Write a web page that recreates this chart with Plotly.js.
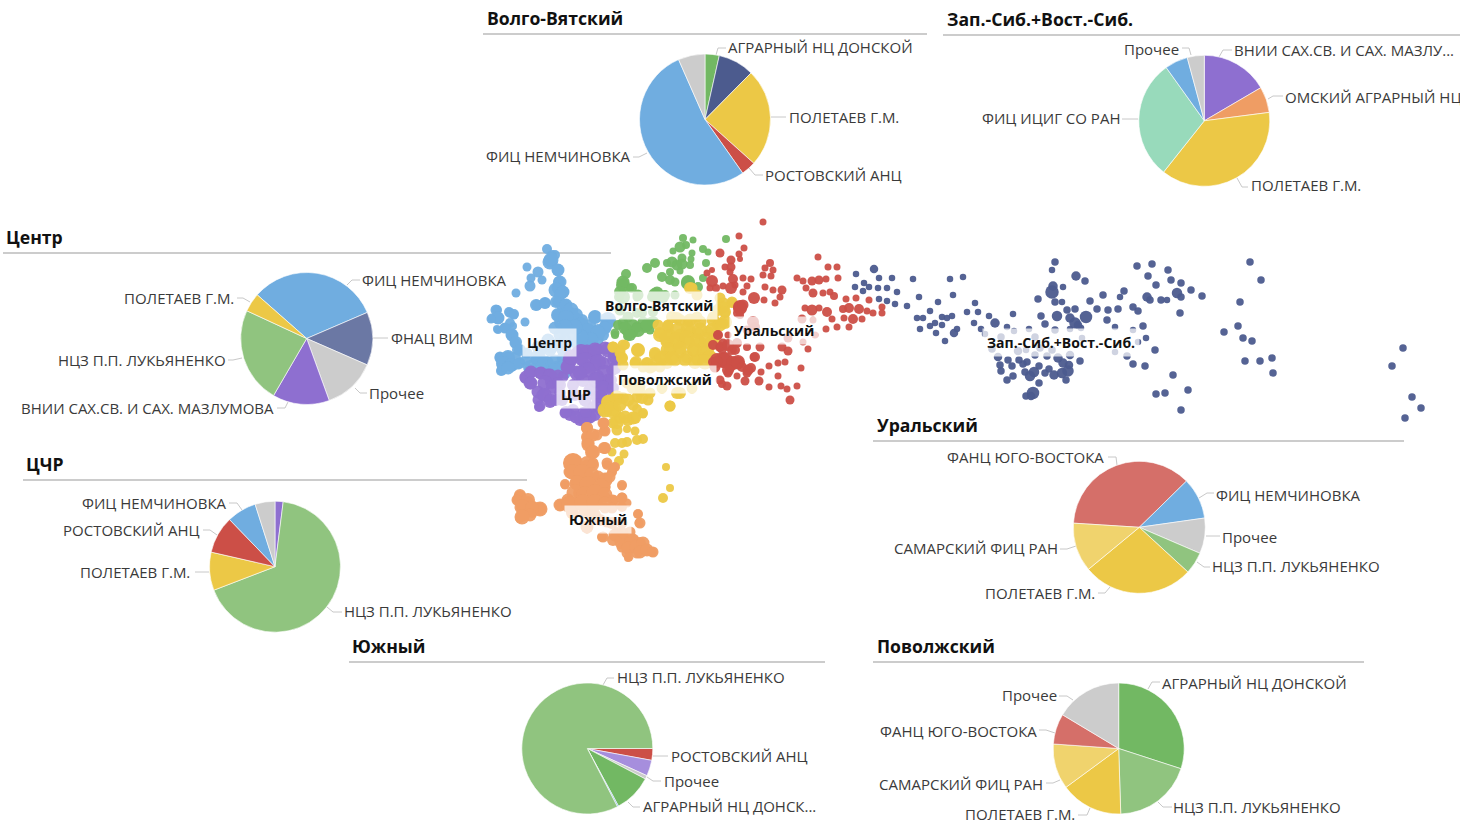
<!DOCTYPE html>
<html><head><meta charset="utf-8">
<script src="https://cdn.plot.ly/plotly-3.0.1.min.js"></script>
<style>html,body{margin:0;padding:0;background:#fff;overflow:hidden}#c{width:1460px;height:820px}</style>
</head><body><div id="c"></div>
<script>
// ---- scatter clusters: [x, y, dot size] ----
const centrPts=[[547,249,7],[552,255,7],[555,255,7],[550,262,12],[558,270,9],[527,267,6],[538,272,8],[531,278,6],[542,280,6],[530,286,8],[559,282,9],[558,288,10],[563,292,9],[560,295,8],[516,293,6],[537,305,8],[545,303,8],[557,302,7],[565,305,9],[497,310,7],[492,318,6],[498,318,9],[510,313,7],[514,315,6],[525,322,6],[505,328,7],[498,330,5],[513,326,5],[512,335,9],[515,343,8],[517,350,7],[558,315,9],[570,313,10],[575,318,10],[560,323,9],[580,327,11],[587,332,9],[595,317,10],[608,322,11],[605,327,10],[598,330,9],[603,335,9],[597,340,10],[590,342,10],[583,340,10],[577,343,10],[568,320,10],[500,357,8],[508,358,10],[515,358,9],[503,365,10],[512,365,10],[502,370,8],[520,363,8],[530,370,9],[537,360,10],[547,363,11],[557,367,10],[557,373,9],[563,358,10],[527,353,8],[540,350,10],[550,350,10],[563,350,10],[562,305,9],[565,315,10],[572,325,10],[565,330,10],[573,335,10],[582,320,9],[590,325,9],[548,340,10],[560,335,10],[555,345,10],
[551,260,12],[558,270,10],[560,282,10],[556,290,12],[563,292,10],[560,295,9],[536,305,9],[545,303,9],[556,302,9],[566,305,10],[571,310,12],[576,315,11],[558,315,11],[566,318,13],[581,325,12],[588,330,11],[595,317,11],[608,320,13],[605,328,10],[598,333,12],[591,340,12],[581,337,12],[575,327,12],[565,327,12],[555,328,10],[496,310,8],[498,318,10],[491,319,6],[509,312,7],[514,314,7],[510,323,7],[505,328,8],[497,329,5],[512,335,10],[516,342,9],[520,350,9],[500,358,8],[508,357,11],[503,363,11],[511,365,11],[518,364,8],[501,371,7],[508,368,10],[526,360,8],[530,367,11],[538,357,12],[545,363,12],[555,362,12],[563,368,12],[541,368,9],[555,370,11],[565,373,9],[538,347,10],[551,347,10],[565,347,10],[565,340,10]];
const cchrPts=[[525,378,8],[530,373,9],[540,373,9],[530,383,10],[538,392,10],[548,375,10],[552,382,11],[543,395,10],[550,402,9],[539,407,7],[538,400,8],[558,375,8],[570,360,12],[577,353,10],[587,352,12],[597,350,10],[605,348,10],[613,353,8],[613,360,9],[568,367,10],[577,373,12],[587,367,11],[595,365,10],[603,363,10],[612,370,9],[583,380,11],[597,377,12],[608,380,10],[603,387,10],[612,390,9],[597,397,10],[603,398,9],[593,407,9],[590,417,10],[580,420,9],[570,415,9],[565,413,8],[583,413,9],[573,410,9],[595,357,10],[582,360,10],[590,390,10],[575,395,9],[585,400,10],[560,385,9],[562,400,9],
[526,377,10],[531,372,10],[531,383,10],[541,373,10],[550,375,10],[545,383,12],[553,387,11],[545,395,11],[551,400,10],[540,406,8],[563,377,8],[568,367,12],[571,357,12],[581,352,13],[595,350,12],[608,350,12],[615,357,10],[615,368,10],[585,360,13],[598,362,13],[588,370,12],[605,373,13],[580,373,11],[596,380,13],[611,380,9],[603,388,12],[613,388,9],[601,397,10],[598,405,10],[595,415,9],[585,420,11],[576,417,10],[566,412,9],[586,412,9],[601,410,9],[573,385,9],[558,383,9],[560,393,9],[556,400,9]];
const volgaVyatPts=[[726,239,6],[683,238,6],[693,240,5],[686,245,6],[680,247,9],[673,251,5],[692,253,5],[703,249,6],[708,252,5],[691,259,5],[667,263,6],[672,262,9],[677,265,9],[682,264,9],[682,258,7],[690,265,6],[706,263,6],[655,263,8],[647,268,8],[670,272,6],[680,271,5],[662,277,8],[670,280,8],[675,282,7],[688,282,12],[698,287,8],[703,278,6],[626,274,8],[623,285,12],[630,288,7],[619,297,8],[637,297,7],[657,293,11],[652,297,8],[665,295,8],[675,295,7],[620,310,9],[623,323,9],[618,325,8],[627,330,10],[637,327,9],[643,322,9],[650,323,9],[642,313,8],[633,333,8],[628,336,8],[615,335,6],[650,330,7],[645,328,8],[653,312,8],[628,317,9],[637,313,8],
[625,328,11],[633,325,10],[638,330,12],[647,325,11],[653,322,10],[630,335,10],[615,333,7],[623,282,11],[632,288,8],[620,292,10],[623,297,12],[655,295,12],[663,297,10],[638,295,9],[688,283,12]];
const povolzhPts=[[692,288,8],[720,298,8],[732,303,7],[723,307,9],[725,313,7],[723,323,8],[713,317,8],[697,317,8],[688,322,8],[677,318,9],[668,325,8],[658,325,8],[660,333,9],[670,335,10],[680,335,10],[690,332,10],[698,333,9],[708,332,9],[717,325,8],[667,342,10],[677,342,12],[688,342,11],[700,342,10],[710,343,10],[670,350,10],[680,352,10],[693,350,10],[703,352,10],[655,355,9],[665,357,10],[675,360,10],[687,357,10],[698,360,10],[707,357,10],[657,360,8],[667,363,9],[613,347,8],[625,345,7],[620,350,8],[638,350,10],[622,358,9],[635,363,8],[647,363,8],[623,365,8],[650,368,8],[627,383,8],[640,387,8],[662,388,8],[677,393,9],[692,388,8],[648,400,8],[637,397,8],[623,398,9],[617,397,10],[608,402,11],[613,410,10],[605,410,9],[670,406,8],[637,409,7],[643,414,6],[620,418,9],[628,420,9],[635,418,9],[613,423,8],[617,430,8],[627,429,5],[635,431,6],[643,439,7],[637,440,7],[627,442,7],[622,443,7],[615,443,7],[612,452,6],[624,454,6],[619,461,7],[666,467,5],[670,488,5],[663,498,7],
[690,288,9],[697,295,8],[723,305,12],[732,302,8],[718,310,9],[725,312,9],[713,320,10],[725,322,11],[720,325,10],[700,322,10],[690,320,10],[680,320,9],[672,317,9],[668,327,9],[660,335,11],[678,330,12],[688,328,11],[700,330,12],[712,330,11],[667,338,12],[677,340,13],[687,338,12],[697,340,11],[707,340,12],[715,343,10],[668,350,12],[680,348,10],[695,350,11],[707,350,11],[710,357,11],[655,353,9],[662,358,12],[672,358,11],[685,360,10],[695,362,11],[705,362,12],[623,345,8],[613,347,8],[620,353,8],[638,350,11],[622,358,8],[636,362,9],[647,363,9],[652,367,8],[660,367,8],[643,367,8],[680,393,9],[670,406,8],[650,393,8],[640,392,8],[632,388,8],[610,403,14],[617,398,12],[605,410,12],[613,410,14],[620,405,10],[628,400,10],[642,398,9],[633,418,10],[625,417,10],[617,422,11],[643,413,7],[633,405,8]];
const uralPts=[[763,222,5],[739,236,5],[744,248,5],[720,253,7],[739,254,5],[740,259,4],[731,260,7],[731,267,7],[725,267,5],[730,272,5],[712,270,4],[707,273,5],[712,281,10],[733,279,8],[743,278,5],[751,279,5],[723,286,5],[710,288,5],[716,288,6],[731,288,10],[735,285,5],[747,286,5],[743,292,5],[765,287,5],[770,263,6],[765,268,5],[773,270,5],[763,275,5],[771,276,5],[773,290,5],[782,290,7],[780,297,5],[754,298,10],[764,300,5],[775,303,5],[740,308,12],[740,315,6],[818,257,5],[828,267,5],[837,267,5],[797,278,5],[803,281,5],[812,281,7],[819,280,7],[826,279,5],[838,278,5],[806,288,5],[813,293,7],[823,293,5],[830,292,5],[834,296,6],[846,299,5],[856,298,5],[869,300,5],[882,307,5],[843,309,6],[849,308,8],[859,309,8],[867,311,5],[873,313,5],[882,313,5],[805,308,5],[812,310,9],[819,308,5],[827,312,8],[832,319,5],[844,318,5],[853,319,8],[862,319,5],[849,327,5],[837,327,5],[826,329,5],[802,319,7],[813,320,5],[753,322,10],[755,327,8],[747,330,7],[788,338,7],[803,342,5],[815,335,5],[718,335,7],[728,335,5],[723,343,7],[737,343,8],[747,347,6],[720,347,8],[760,347,7],[782,347,7],[788,351,7],[808,349,5],[732,350,8],[754,357,7],[717,360,12],[725,360,14],[738,363,11],[713,362,8],[730,367,9],[751,368,8],[778,363,5],[785,362,5],[769,366,5],[801,368,5],[747,373,7],[761,372,5],[728,373,7],[737,376,5],[778,376,5],[745,381,7],[759,381,7],[720,380,7],[727,386,7],[722,384,6],[769,387,5],[781,386,5],[787,389,5],[797,386,5],[790,400,7],
[723,360,14],[733,363,12],[717,362,10],[715,367,9],[728,370,10],[738,362,12],[742,367,8],[713,345,8],[722,348,9],[735,350,8],[718,335,8],[728,345,10],[748,370,9],[755,357,8],[740,307,12],[743,305,9],[738,313,8]];
const yuzhnyPts=[[587,428,9],[604,423,8],[604,431,7],[588,437,9],[597,435,8],[588,443,10],[592,452,11],[605,448,9],[607,465,7],[615,467,6],[612,472,6],[573,463,16],[587,467,12],[593,463,8],[570,472,10],[577,473,13],[587,477,12],[598,477,10],[607,478,8],[577,483,11],[565,485,6],[590,487,12],[603,487,12],[622,486,6],[580,493,11],[595,497,13],[605,497,8],[613,500,7],[622,497,6],[560,505,8],[568,503,11],[580,503,12],[593,507,10],[620,505,7],[627,503,6],[605,508,8],[573,513,9],[587,527,9],[638,514,6],[639,523,6],[602,537,7],[617,533,9],[613,540,9],[623,538,10],[633,540,10],[622,547,8],[630,547,9],[640,543,9],[637,553,8],[645,550,9],[652,552,7],[628,558,5],[627,553,8],[520,497,10],[517,500,6],[528,502,9],[522,507,9],[540,509,10],[532,512,9],[523,515,10],[520,518,7],[533,507,9],[585,512,10],[595,515,9],[607,522,8],
[587,428,9],[587,437,9],[593,435,10],[588,445,10],[593,452,11],[604,448,9],[605,431,8],[603,423,8],[607,463,8],[615,467,7],[612,472,7],[573,463,17],[587,463,11],[593,465,9],[572,472,12],[582,473,14],[592,475,12],[605,480,12],[577,483,12],[565,484,7],[588,485,14],[602,487,14],[610,477,8],[622,485,7],[575,493,14],[585,495,14],[595,493,14],[605,495,12],[613,500,8],[622,498,8],[568,500,10],[560,505,10],[570,505,14],[583,503,14],[595,503,14],[605,503,10],[622,507,7],[612,508,8],[572,513,9],[638,514,7],[640,523,8],[587,527,10],[603,537,8],[615,535,10],[622,542,12],[632,542,12],[628,548,10],[637,547,12],[643,543,10],[640,552,10],[647,550,10],[653,552,8],[629,557,6],[630,532,8],[623,533,8],[612,523,9],[600,520,9],[590,515,9],[622,523,8],[520,495,9],[517,500,8],[528,500,11],[522,507,12],[540,509,12],[532,508,11],[530,515,10],[522,517,12]];
const sibirPts=[[874,269,7],[856,274,5],[879,278,5],[892,278,5],[913,279,5],[864,283,5],[855,287,5],[869,287,5],[878,288,5],[887,288,5],[863,291,5],[897,292,5],[919,297,5],[879,299,5],[887,301,5],[895,304,5],[907,306,5],[930,311,5],[917,318,5],[923,318,5],[935,323,5],[930,326,5],[920,329,5],[936,333,5],[938,302,5],[950,279,5],[963,277,5],[953,295,5],[975,303,5],[942,317,5],[947,318,5],[952,316,5],[967,312,5],[978,312,5],[989,316,5],[1013,314,5],[942,325,5],[974,323,5],[957,329,5],[954,333,7],[945,341,5],[981,329,5],[995,323,8],[1007,327,5],[985,334,5],[1014,331,5],[1029,329,5],[1001,337,6],[1035,337,6],[1055,330,6],[1070,329,5],[1081,328,5],[1115,327,5],[1133,330,5],[1082,338,5],[1146,338,5],[1138,342,5],[992,349,6],[1018,351,7],[1026,350,5],[1040,348,6],[1052,350,6],[1115,352,5],[1055,262,6],[1052,270,5],[1053,286,8],[1052,292,12],[1063,287,5],[1076,276,8],[1085,281,6],[1038,299,6],[1055,302,6],[1062,302,5],[1103,295,6],[1090,301,6],[1120,297,5],[1124,291,6],[1137,266,6],[1152,264,6],[1148,276,6],[1168,270,6],[1171,280,6],[1181,283,6],[1156,285,6],[1177,293,9],[1191,290,6],[1181,297,6],[1202,296,6],[1147,297,8],[1150,300,6],[1161,300,6],[1167,300,5],[1180,313,6],[1133,307,6],[1138,311,6],[1118,309,6],[1108,310,6],[1097,309,6],[1107,320,6],[1143,326,6],[1067,310,6],[1075,309,6],[1057,316,9],[1041,316,6],[1070,318,8],[1086,317,11],[1075,323,10],[1078,325,7],[1045,324,6],[998,357,7],[1070,355,7],[1058,358,8],[1047,356,6],[1035,355,6],[1008,360,6],[1019,360,6],[1080,361,6],[1027,362,6],[1023,364,6],[1000,365,6],[1012,366,6],[1063,363,8],[1069,365,7],[1039,366,6],[1001,371,6],[1025,372,6],[1034,372,9],[1049,369,6],[1045,373,6],[1030,376,9],[1013,376,6],[1054,375,8],[1062,373,9],[1068,371,10],[1007,380,6],[1066,380,6],[1039,383,6],[1026,396,6],[1033,393,11],[1031,396,7],[1127,356,6],[1133,364,6],[1145,366,6],[1155,350,6],[1173,375,6],[1156,394,6],[1165,393,6],[1188,390,6],[1181,410,6],[1250,262,6],[1261,280,6],[1240,302,6],[1238,326,6],[1224,332,6],[1243,338,6],[1252,341,6],[1245,361,6],[1260,361,6],[1272,358,6],[1273,373,6],[1403,348,6],[1392,366,6],[1412,397,6],[1421,408,6],[1405,418,6]];

// ---- pies: slice names and shares (%) ----
const volgaLabels=['АГРАРНЫЙ НЦ ДОНСКОЙ','ФНАЦ ВИМ','ПОЛЕТАЕВ Г.М.','РОСТОВСКИЙ АНЦ','ФИЦ НЕМЧИНОВКА','Прочее'];
const volgaValues=[3.5,8.9,24.2,3.6,53.1,6.6];
const sibLabels=['ВНИИ САХ.СВ. И САХ. МАЗЛУ...','ОМСКИЙ АГРАРНЫЙ НЦ','ПОЛЕТАЕВ Г.М.','ФИЦ ИЦИГ СО РАН','ФИЦ НЕМЧИНОВКА','Прочее'];
const sibValues=[16.6,6.4,37.8,29.5,5.7,4.2];
const centrLabels=['ФИЦ НЕМЧИНОВКА','ФНАЦ ВИМ','Прочее','ВНИИ САХ.СВ. И САХ. МАЗЛУМОВА','НЦЗ П.П. ЛУКЬЯНЕНКО','ПОЛЕТАЕВ Г.М.'];
const centrValues=[32,13,12.9,13.9,23.5,4.6];
const cchrLabels=['ВНИИ САХ.СВ. И САХ. МАЗЛУМОВА','НЦЗ П.П. ЛУКЬЯНЕНКО','ПОЛЕТАЕВ Г.М.','РОСТОВСКИЙ АНЦ','ФИЦ НЕМЧИНОВКА','Прочее'];
const cchrValues=[2,67.1,9.4,9.2,7.3,4.9];
const uralLabels=['ФАНЦ ЮГО-ВОСТОКА','ФИЦ НЕМЧИНОВКА','Прочее','НЦЗ П.П. ЛУКЬЯНЕНКО','ПОЛЕТАЕВ Г.М.','САМАРСКИЙ ФИЦ РАН'];
const uralValues=[36.7,10.1,8.7,5.4,27.2,12];
const yuzhLabels=['РОСТОВСКИЙ АНЦ','ВНИИ САХ.СВ. И САХ. МАЗЛУМОВА','Прочее','АГРАРНЫЙ НЦ ДОНСК...','ФИЦ НЕМЧИНОВКА','НЦЗ П.П. ЛУКЬЯНЕНКО'];
const yuzhValues=[2.9,3.9,0.9,9.4,0.3,82.6];
const povLabels=['АГРАРНЫЙ НЦ ДОНСКОЙ','НЦЗ П.П. ЛУКЬЯНЕНКО','ПОЛЕТАЕВ Г.М.','САМАРСКИЙ ФИЦ РАН','ФАНЦ ЮГО-ВОСТОКА','Прочее'];
const povValues=[30,19.5,15.4,11.2,7.5,16.4];
const regionNames=['Волго-Вятский','Зап.-Сиб.+Вост.-Сиб.','Центр','ЦЧР','Уральский','Южный','Поволжский'];

// ---- styling and layout ----
const C={green:'#72B863',lgreen:'#90C47F',navy:'#4C5B8E',lnavy:'#6B78A4',yellow:'#ECC846',lyellow:'#F0D36D',red:'#CC4F47',lred:'#D56F69',blue:'#70ADE0',grey:'#CCCCCC',purple:'#8E6FD0',lpurple:'#A68EDD',orange:'#EF9D64',mint:'#98DABB'};
const W=1460,H=820;
const FONT='"Open Sans",sans-serif';
const scatterLayers=[[centrPts,C.blue,3],[cchrPts,C.purple,3],[volgaVyatPts,C.green,2],[povolzhPts,C.yellow,3],[yuzhnyPts,C.orange,3],[uralPts,C.red,2],[sibirPts,C.navy,1.5]];
const pies=[
 {l:volgaLabels,v:volgaValues,c:[C.green,C.navy,C.yellow,C.red,C.blue,C.grey],cx:705,cy:119.5,r:65.5,rot:0,
  t:[[0,'l',728,47],[2,'l',789,117],[3,'l',765,175],[4,'r',631,156]],
  p:['M716 55L718 48L726 48','M771 117L786 117','M749 168L755 175L763 175','M647 153L639 157L633 157']},
 {l:sibLabels,v:sibValues,c:[C.purple,C.orange,C.yellow,C.mint,C.blue,C.grey],cx:1204.3,cy:120.8,r:65.5,rot:0,
  t:[[0,'l',1234,50],[1,'l',1285,97],[2,'l',1251,185],[3,'r',1120,118],[5,'r',1179,49]],
  p:['M1219 57L1223 50L1232 50','M1268 99L1273 96L1283 96','M1237 178L1242 187L1248 187','M1138 119L1122 119','M1191 55L1189 48L1182 48']},
 {l:centrLabels,v:centrValues,c:[C.blue,C.lnavy,C.grey,C.purple,C.lgreen,C.yellow],cx:306.7,cy:338.5,r:66,rot:-48.6,
  t:[[0,'l',362,280],[1,'l',391,338],[2,'l',369,393],[3,'r',274,408],[4,'r',226,360],[5,'r',234,298]],
  p:['M347 285L352 280L360 280','M373 338L388 338','M355 388L360 393L367 393','M288 402L285 408L277 408','M242 358L233 360L228 360','M250 302L243 298L237 298']},
 {l:cchrLabels,v:cchrValues,c:[C.purple,C.lgreen,C.yellow,C.red,C.blue,C.grey],cx:275,cy:566.7,r:65.5,rot:0,
  t:[[1,'l',344,611],[2,'r',190,572],[3,'r',200,530],[4,'r',227,503]],
  p:['M327 607L333 612L342 612','M209 572L195 572','M217 535L210 530L203 530','M242 510L237 503L229 503']},
 {l:uralLabels,v:uralValues,c:[C.lred,C.blue,C.grey,C.lgreen,C.yellow,C.lyellow],cx:1139.3,cy:527.3,r:66,rot:-86.4,
  t:[[0,'r',1104,457],[1,'l',1216,495],[2,'l',1222,537],[3,'l',1212,566],[4,'r',1095,593],[5,'r',1058,548]],
  p:['M1117 465L1116 457L1108 457','M1199 498L1207 493L1214 493','M1206 536L1220 536','M1197 562L1204 567L1210 567','M1110 587L1105 593L1098 593','M1076 546L1067 549L1060 549']},
 {l:yuzhLabels,v:yuzhValues,c:[C.red,C.lpurple,C.grey,C.green,C.blue,C.lgreen],cx:587.3,cy:748.5,r:65.5,rot:90,
  t:[[5,'l',617,677],[0,'l',671,756],[2,'l',664,781],[3,'l',643,806]],
  p:['M603 685L607 678L614 678','M653 756L668 756','M647 777L653 781L661 781','M628 802L633 807L640 807']},
 {l:povLabels,v:povValues,c:[C.green,C.lgreen,C.yellow,C.lyellow,C.lred,C.grey],cx:1118.7,cy:748.5,r:65.5,rot:0,
  t:[[0,'l',1162,683],[1,'l',1173,807],[2,'r',1075,814],[3,'r',1043,784],[4,'r',1037,731],[5,'r',1057,695]],
  p:['M1148 689L1152 682L1160 682','M1158 802L1163 807L1172 807','M1090 808L1087 815L1078 815','M1060 780L1053 783L1046 783','M1055 733L1046 730L1039 730','M1073 700L1067 696L1059 696']}
];
const heads=[[487,18,483,927,34],[947,19,943,1460,35],[6,237,3,611,253],[26,464,23,527,480],[877,425,873,1404,441],[352,646,349,825,662],[877,646,873,1364,662]];
const clusterTags=[[659,305],[1061,342],[549,342],[576,394],[774,330],[598,519],[665,379]];

const traces=[];
scatterLayers.forEach(([pts,col,grow])=>traces.push({type:'scatter',mode:'markers',x:pts.map(p=>p[0]),y:pts.map(p=>p[1]),
  marker:{size:pts.map(p=>p[2]+grow),color:col,opacity:0.95,line:{width:0}},hoverinfo:'skip',showlegend:false}));
pies.forEach(p=>traces.push({type:'pie',labels:p.l,values:p.v,sort:false,direction:'clockwise',rotation:p.rot,textinfo:'none',showlegend:false,
  marker:{colors:p.c,line:{color:'#ffffff',width:0.6}},
  domain:{x:[(p.cx-p.r)/W,(p.cx+p.r)/W],y:[1-(p.cy+p.r)/H,1-(p.cy-p.r)/H]}}));

const annotations=[],shapes=[];
pies.forEach(p=>{
  p.t.forEach(([i,side,x,y])=>annotations.push({x,y,xref:'x',yref:'y',text:p.l[i],showarrow:false,xanchor:side==='l'?'left':'right',yanchor:'middle',
    xshift:side==='l'?-1:1,borderpad:0,font:{family:FONT,size:15,color:'#3a3a3a'}}));
  p.p.forEach(d=>shapes.push({type:'path',path:d.replace(/M(\S+) (\S+)/,'M$1,$2').replace(/L(\S+) (\S+?)(?=L|$)/g,' L$1,$2'),xref:'x',yref:'y',line:{color:'#c8c8c8',width:1},layer:'below'}));
});
regionNames.forEach((n,i)=>{
  const h=heads[i];
  annotations.push({x:h[0],y:h[1],xref:'x',yref:'y',text:'<b>'+n+'</b>',showarrow:false,xanchor:'left',yanchor:'middle',xshift:-1,borderpad:0,font:{family:FONT,size:17.6,color:'#111111'}});
  shapes.push({type:'line',x0:h[2],x1:h[3],y0:h[4],y1:h[4],xref:'x',yref:'y',line:{color:'#9a9a9a',width:1.2},layer:'below'});
  const g=clusterTags[i];
  annotations.push({x:g[0],y:g[1],xref:'x',yref:'y',text:'<b>'+n+'</b>',showarrow:false,xanchor:'center',yanchor:'middle',bgcolor:'rgba(255,255,255,0.72)',borderpad:4,font:{family:FONT,size:14,color:'#111111'}});
});

const layout={width:W,height:H,margin:{l:0,r:0,t:0,b:0,pad:0},paper_bgcolor:'#fff',plot_bgcolor:'#fff',showlegend:false,
  xaxis:{range:[0,W],visible:false,fixedrange:true},yaxis:{range:[H,0],visible:false,fixedrange:true},annotations,shapes};
Plotly.newPlot('c',traces,layout,{displayModeBar:false,staticPlot:true});
</script></body></html>
